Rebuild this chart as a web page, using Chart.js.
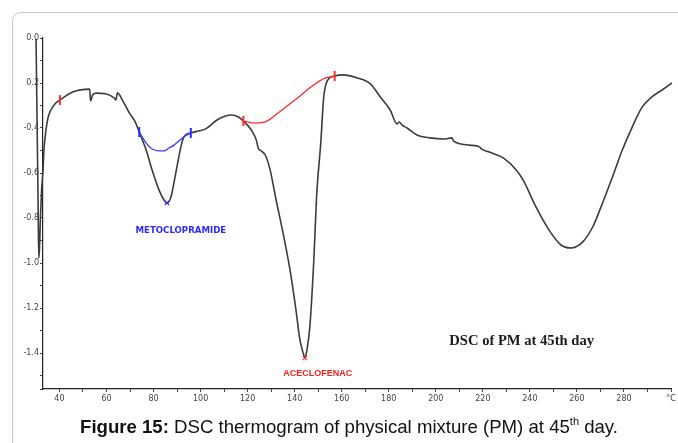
<!DOCTYPE html>
<html>
<head>
<meta charset="utf-8">
<script src="https://cdn.jsdelivr.net/npm/chart.js@4/dist/chart.umd.min.js"></script>
<style>
  html, body { margin:0; padding:0; width:678px; height:443px; overflow:hidden; background:#fff; }
  #frame { position:absolute; left:12px; top:12px; width:720px; height:480px; border:1px solid #c8c8c8; border-radius:9px; box-sizing:border-box; }
  #wrap { position:absolute; left:0; top:0; width:678px; height:443px; }
  #caption { position:absolute; left:0; width:698px; top:416px; text-align:center; font-family:"Liberation Sans", Arial, sans-serif; font-size:18.6px; color:#111; white-space:nowrap; }
  #caption sup { font-size:11px; vertical-align:8px; line-height:0; }
</style>
</head>
<body>
<div id="frame"></div>
<div id="wrap"><canvas id="c" width="678" height="443"></canvas></div>
<div id="caption"><b>Figure 15:</b> DSC thermogram of physical mixture (PM) at 45<sup>th</sup> day.</div>
<script>
// ---- data ----
const temperature = [30.05,30.47,30.9,31.2,31.5,31.95,32.4,33,33.4,34.27,35.1,36.37,38.06,40.17,45.65,52.82,53.24,54.09,55.78,63.37,64.0,64.63,67.16,69.69,72.2,73.91,76.86,79.39,82.35,84.45,85.72,87.4,88.67,89.94,91.62,92.89,95.84,99.2,102.17,107.65,113.13,116.1,118.2,121.57,123.68,124.52,125.8,127.5,129.58,132.11,135.07,138.02,140.55,142.24,143.5,144.35,145.2,146.45,148.14,149.41,151.09,152.36,154.05,157.0,160.37,166.7,172.18,176.4,180.6,183.57,184.4,185.7,187.8,192.0,197.5,203.4,206.8,207.6,214.4,218.6,219.4,222.8,228.7,234.2,237.1,242.6,248.1,253.2,257.4,262.4,266.7,270.9,275.1,279.3,283.5,287.7,291.9,296.2,300.4];
const heatFlow = [-0.004,-0.364,-0.72,-0.978,-0.94,-0.787,-0.676,-0.587,-0.498,-0.409,-0.356,-0.32,-0.293,-0.276,-0.24,-0.227,-0.28,-0.253,-0.245,-0.267,-0.276,-0.244,-0.284,-0.333,-0.373,-0.418,-0.498,-0.587,-0.676,-0.72,-0.733,-0.707,-0.644,-0.573,-0.484,-0.44,-0.422,-0.413,-0.404,-0.36,-0.342,-0.351,-0.369,-0.409,-0.453,-0.489,-0.502,-0.52,-0.587,-0.72,-0.867,-1.031,-1.209,-1.342,-1.396,-1.422,-1.387,-1.284,-0.987,-0.689,-0.467,-0.262,-0.187,-0.169,-0.164,-0.178,-0.204,-0.262,-0.32,-0.382,-0.373,-0.387,-0.40,-0.431,-0.444,-0.449,-0.444,-0.458,-0.476,-0.484,-0.493,-0.507,-0.533,-0.587,-0.631,-0.751,-0.853,-0.92,-0.933,-0.907,-0.84,-0.733,-0.618,-0.498,-0.396,-0.307,-0.262,-0.231,-0.20];

const metoBaseT = [73.91,76.86,79.39,82.35,84.45,86.56,88.67,90.78,93.3,95.84];
const metoBaseV = [-0.418,-0.467,-0.493,-0.502,-0.502,-0.489,-0.476,-0.458,-0.436,-0.422];
const aceBaseT = [118.2,123.26,127.5,132.96,140.1,146.9,152.8,157.0];
const aceBaseV = [-0.369,-0.378,-0.373,-0.333,-0.276,-0.218,-0.178,-0.169];

const metoLimitsT = [73.91,95.84];
const metoLimitsV = [-0.418,-0.422];
const aceLimitsT = [118.2,157.0,40.17];
const aceLimitsV = [-0.369,-0.169,-0.276];
const metoPeakT = [85.72], metoPeakV = [-0.733];
const acePeakT = [144.35], acePeakV = [-1.422];

const xMin = 33, xMax = 300;
const yTickValues = [0,-0.2,-0.4,-0.6,-0.8,-1.0,-1.2,-1.4];
const yTickLabels = ["0.0","0.2","-0.4","-0.6","-0.8","-1.0","-1.2","-1.4"];
const xTickValues = [40,60,80,100,120,140,160,180,200,220,240,260,280,300];
const xTickLabels = ["40","60","80","100","120","140","160","180","200","220","240","260","280","°C"];
const xMinorTicks = [50,70,90,110,130,150,170,190,210,230,250,270,290];

const annotations = [
  { text:"METOCLOPRAMIDE", t:91.6, v:-0.858, color:"#2b2bff", font:"bold 8.6px 'DejaVu Sans'" },
  { text:"ACECLOFENAC", t:149.8, v:-1.489, color:"#ff1a1a", font:"bold 9px 'Liberation Sans'" },
  { text:"DSC of PM at 45th day", t:236.5, v:-1.347, color:"#1a1a1a", font:"bold 14.6px 'Liberation Serif'" }
];

const zip = (a,b) => a.map((x,i)=>({x:x, y:b[i]}));

const textPlugin = {
  id:'texts',
  afterDatasetsDraw(chart){
    const ctx = chart.ctx, xs = chart.scales.x, ys = chart.scales.y;
    ctx.save();
    ctx.textAlign='center'; ctx.textBaseline='middle';
    annotations.forEach(a=>{
      ctx.font=a.font; ctx.fillStyle=a.color;
      ctx.fillText(a.text, xs.getPixelForValue(a.t), ys.getPixelForValue(a.v));
    });
    ctx.restore();
  }
};

const near = (v, arr) => arr.findIndex(a => Math.abs(a - v) < 1e-6);

new Chart(document.getElementById('c'), {
  type:'line',
  data:{
    datasets:[
      { data: zip(temperature, heatFlow), borderColor:'#3c3c3c', borderWidth:1.6, pointRadius:0, cubicInterpolationMode:'monotone', clip:false, order:3 },
      { data: zip(metoBaseT, metoBaseV), borderColor:'#3d3dff', borderWidth:1.3, pointRadius:0, cubicInterpolationMode:'monotone', order:2 },
      { data: zip(aceBaseT, aceBaseV), borderColor:'#ff2a2a', borderWidth:1.3, pointRadius:0, cubicInterpolationMode:'monotone', order:2 },
      { data: zip(metoLimitsT, metoLimitsV), showLine:false, pointStyle:'line', rotation:90, pointRadius:5, pointBorderWidth:2, pointBorderColor:'#2b2bff', order:1 },
      { data: zip(aceLimitsT, aceLimitsV), showLine:false, pointStyle:'line', rotation:90, pointRadius:5, pointBorderWidth:2, pointBorderColor:'#ff2a2a', order:1 },
      { data: zip(metoPeakT, metoPeakV), showLine:false, pointStyle:'crossRot', pointRadius:3, pointBorderWidth:1.2, pointBorderColor:'#2b2bff', order:1 },
      { data: zip(acePeakT, acePeakV), showLine:false, pointStyle:'crossRot', pointRadius:3, pointBorderWidth:1.2, pointBorderColor:'#ff2a2a', order:1 }
    ]
  },
  options:{
    responsive:false, animation:false,
    layout:{ padding:{ left:0, right:2, top:38, bottom:0 } },
    plugins:{ legend:{display:false}, tooltip:{enabled:false} },
    scales:{
      x:{
        type:'linear', bounds:'data',
        afterDataLimits:(s)=>{ s.min = xMin; s.max = xMax; },
        afterBuildTicks:(s)=>{ s.ticks = xTickValues.concat(xMinorTicks).sort((a,b)=>a-b).map(v=>({value:v})); },
        border:{ display:true, color:'#222', width:1.2 },
        grid:{ display:true, drawOnChartArea:false, drawTicks:true, tickLength:3, color:'#444' },
        ticks:{ autoSkip:false, maxRotation:0, padding:2, color:'#444', font:{ family:'DejaVu Sans', size:8 },
          callback:(v)=>{ const i = near(v, xTickValues); return i>=0 ? xTickLabels[i] : ''; } },
        afterFit:(s)=>{ s.height = 54; }
      },
      y:{
        type:'linear', min:-1.56, max:0,
        border:{ display:true, color:'#222', width:1.2 },
        grid:{ display:true, drawOnChartArea:false, drawTicks:true, tickLength:3, color:'#444' },
        ticks:{ stepSize:0.1, autoSkip:false, padding:1, color:'#444', font:{ family:'DejaVu Sans', size:8 },
          callback:(v)=>{ const i = near(v, yTickValues); return i>=0 ? yTickLabels[i] : ''; } },
        afterFit:(s)=>{ s.width = 43; }
      }
    }
  },
  plugins:[textPlugin]
});
</script>
</body>
</html>
